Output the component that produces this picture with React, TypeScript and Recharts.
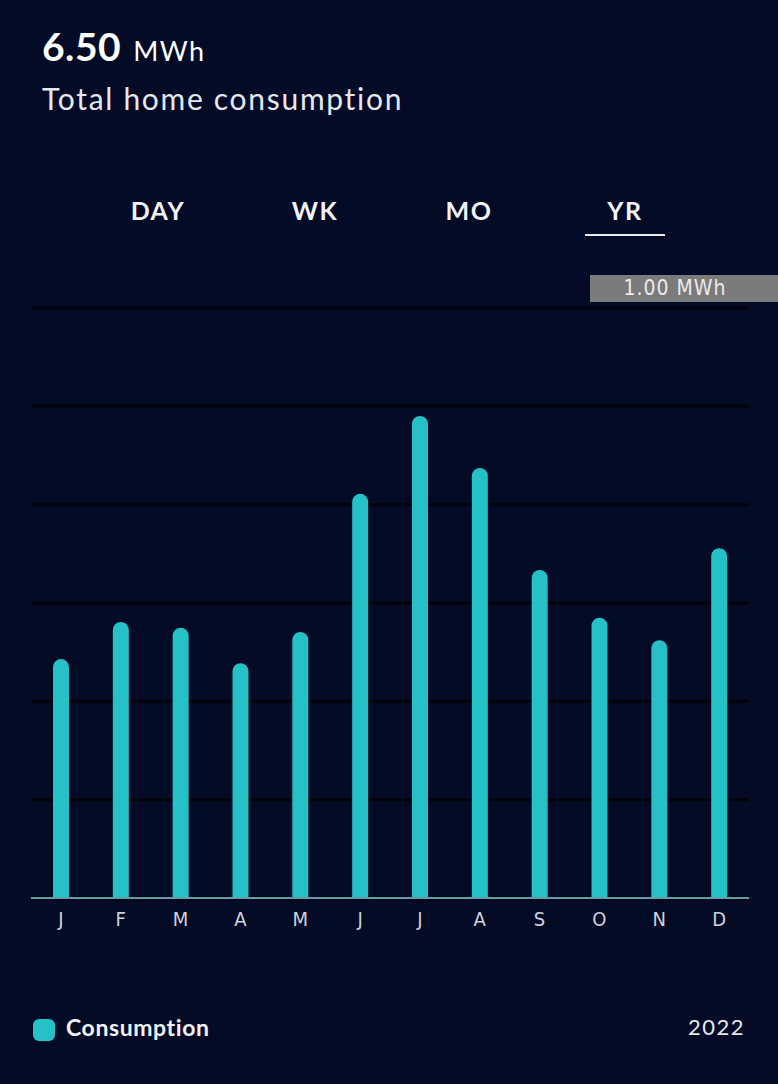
import React from "react";
import { BarChart, Bar, XAxis, YAxis, CartesianGrid } from "recharts";

const months = ["J", "F", "M", "A", "M", "J", "J", "A", "S", "O", "N", "D"];
const consumption = [0.405, 0.468, 0.458, 0.398, 0.451, 0.685, 0.817, 0.729, 0.556, 0.475, 0.437, 0.593];
const yTicks = [0, 0.1667, 0.3333, 0.5, 0.6667, 0.8333, 1];
const tabs = ["DAY", "WK", "MO", "YR"];
const totalValue = "6.50";
const totalUnit = "MWh";
const topLabel = "1.00 MWh";
const seriesName = "Consumption";
const yearLabel = "2022";

const data = months.map((m, i) => ({ key: i, month: m, value: consumption[i] }));

const BG = "#030b27";
const TEAL = "#26c1c7";
const FONT = "Lato, 'Open Sans', sans-serif";

const tabCenters = [158, 315, 469, 625];

export default function App() {
  return (
    <div
      style={{
        position: "absolute",
        left: 0,
        top: 0,
        width: 778,
        height: 1084,
        background: BG,
        overflow: "hidden",
        fontFamily: FONT,
        color: "#ffffff",
      }}
    >
      <div style={{ position: "absolute", left: 42, top: 22, whiteSpace: "nowrap", lineHeight: "48px" }}>
        <span style={{ fontSize: 39, fontWeight: 700, letterSpacing: 0.5 }}>{totalValue}</span>
        <span style={{ fontSize: 27, fontWeight: 400, marginLeft: 12, letterSpacing: 1.5 }}>{totalUnit}</span>
      </div>
      <div
        style={{
          position: "absolute",
          left: 42,
          top: 80,
          fontSize: 30,
          letterSpacing: 1.7,
          color: "#e6e8f0",
          whiteSpace: "nowrap",
        }}
      >
        Total home consumption
      </div>
      {tabs.map((t, i) => (
        <div
          key={t}
          style={{
            position: "absolute",
            left: tabCenters[i] - 60,
            width: 120,
            top: 195,
            textAlign: "center",
            fontSize: 25,
            fontWeight: 700,
            letterSpacing: 1.5,
            color: "#f2f3f7",
          }}
        >
          {t}
        </div>
      ))}
      <div style={{ position: "absolute", left: 585, top: 234, width: 80, height: 2, background: "#e8eaf0" }} />

      <div style={{ position: "absolute", left: 0, top: 0 }}>
        <BarChart
          width={778}
          height={960}
          data={data}
          margin={{ top: 308, right: 29, bottom: 32, left: 31 }}
        >
          <CartesianGrid horizontal vertical={false} stroke="#000309" strokeWidth={3} />
          <YAxis hide domain={[0, 1]} ticks={yTicks} type="number" />
          <XAxis
            dataKey="key"
            tickFormatter={(v: number) => months[v]}
            height={30}
            axisLine={{ stroke: "#5f9fa8", strokeWidth: 2 }}
            tickLine={false}
            tick={{ fill: "#d0d3de", fontSize: 20, fontFamily: "'DejaVu Sans Condensed', 'DejaVu Sans', sans-serif", fontWeight: 300 }}
            tickMargin={8}
            interval={0}
          />
          <Bar
            dataKey="value"
            name={seriesName}
            fill={TEAL}
            barSize={16}
            radius={[8, 8, 0, 0]}
            isAnimationActive={false}
          />
        </BarChart>
      </div>

      <div
        style={{
          position: "absolute",
          left: 590,
          top: 275,
          width: 188,
          height: 27,
          background: "#7b7b7b",
          color: "#ececec",
          fontSize: 21,
          letterSpacing: 1,
          fontFamily: "'DejaVu Sans Condensed', 'DejaVu Sans', sans-serif",
          lineHeight: "27px",
          textAlign: "center",
          paddingRight: 18,
          boxSizing: "border-box",
          whiteSpace: "nowrap",
        }}
      >
        {topLabel}
      </div>

      <div style={{ position: "absolute", left: 33, top: 1019, width: 22, height: 22, borderRadius: 6, background: TEAL }} />
      <div style={{ position: "absolute", left: 66, top: 1013, fontSize: 23, fontWeight: 700, letterSpacing: 0.6, color: "#f2f3f7" }}>
        {seriesName}
      </div>
      <div style={{ position: "absolute", right: 33, top: 1013, fontSize: 22, letterSpacing: 1.5, color: "#e6e8f0" }}>{yearLabel}</div>
    </div>
  );
}
